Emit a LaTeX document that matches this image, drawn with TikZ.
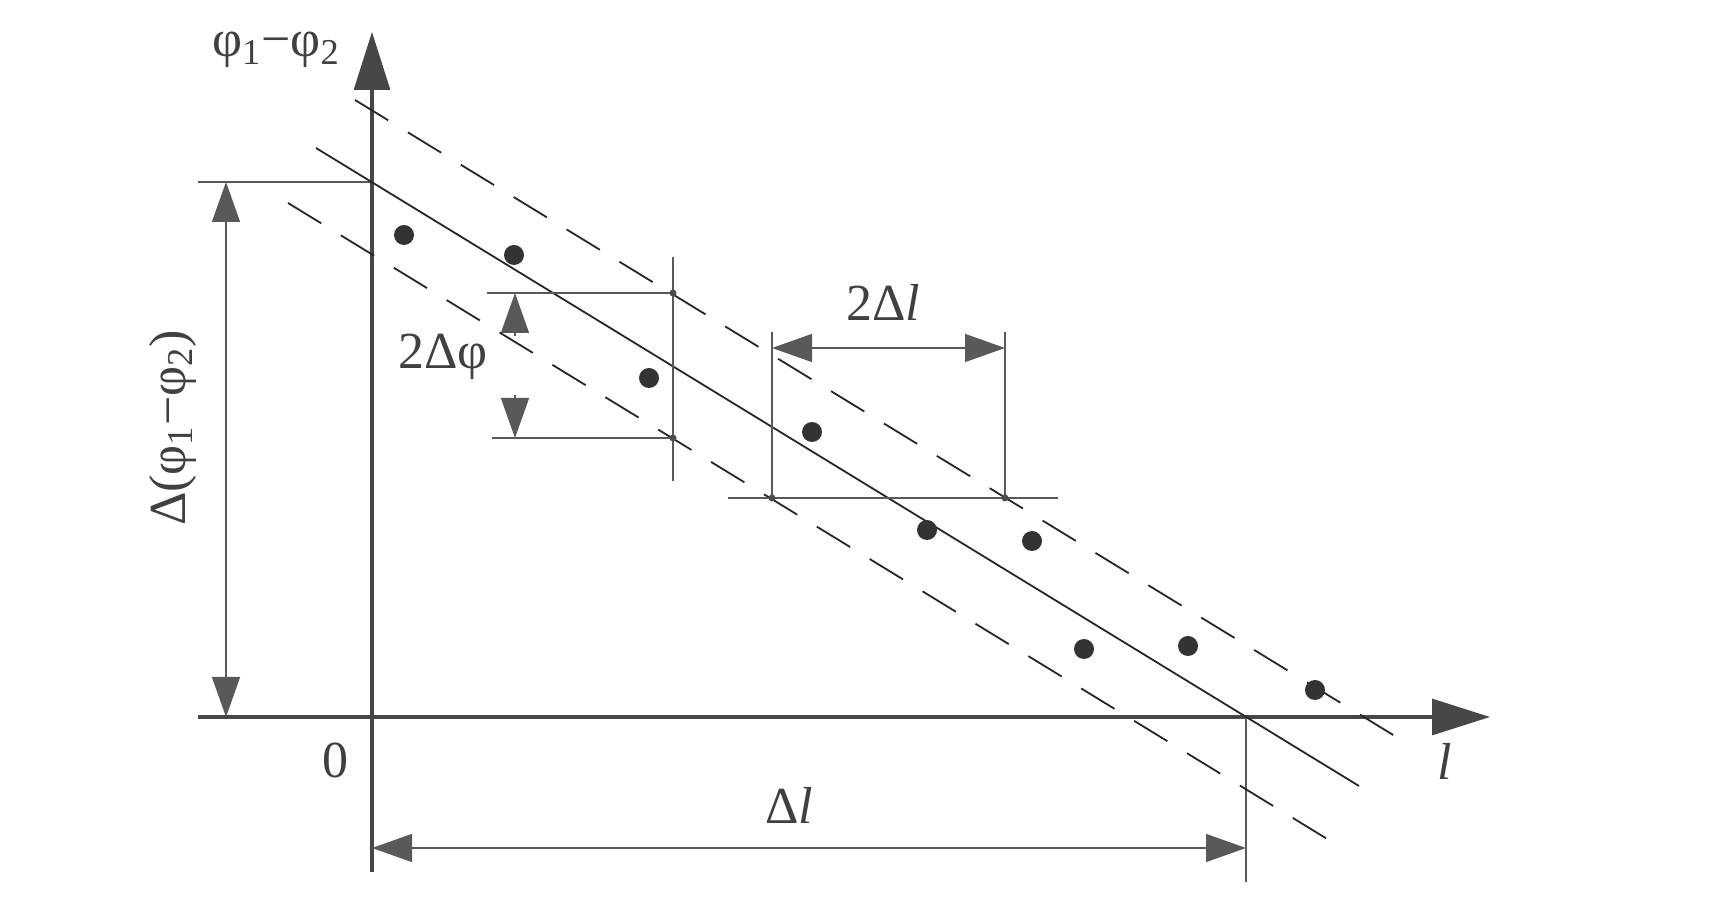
\documentclass[tikz,border=0pt]{standalone}
\usepackage{fontspec}
\setmainfont{Liberation Serif}
\usetikzlibrary{arrows.meta}
\begin{document}
\begin{tikzpicture}[x=0.5pt,y=-0.5pt,
  axisline/.style={draw=black!72, line width=1.6pt, -{Triangle[length=29pt,width=18pt]}},
  dimline/.style={draw=black!65, line width=0.7pt},
  dimarrow/.style={dimline, {Triangle[length=20pt,width=14pt]}-{Triangle[length=20pt,width=14pt]}},
  onearrow/.style={dimline, -{Triangle[length=20pt,width=14pt]}},
  fitline/.style={draw=black!85, line width=0.9pt},
  bandline/.style={draw=black!85, line width=0.9pt, dash pattern=on 19.5pt off 11.5pt},
  datapt/.style={circle, fill=black!80, inner sep=0pt, minimum size=10pt},
  xmark/.style={circle, fill=black!70, inner sep=0pt, minimum size=3.5pt},
  lbl/.style={text=black!75, font=\fontsize{26}{28}\selectfont, inner sep=0pt}]
\useasboundingbox (0,0) rectangle (1725,913);

% key coordinates
\coordinate (O) at (372,717);
\coordinate (ytop) at (372,32);
\coordinate (ybot) at (372,872);
\coordinate (xleft) at (198,717);
\coordinate (xtip) at (1490,717);
\coordinate (A0) at (372,182);
\coordinate (refL) at (198,182);
\coordinate (dLt) at (226,182);
\coordinate (dLb) at (226,717);
\coordinate (X0) at (1246,717);
\coordinate (X0b) at (1246,882);
\coordinate (dBl) at (372,848);
\coordinate (dBr) at (1246,848);

% fit line and band
\coordinate (F1) at (316,148);
\coordinate (F2) at (1359,786);
\coordinate (U1) at (355,100);
\coordinate (U2) at (1403,741);
\coordinate (L1) at (288,203);
\coordinate (L2) at (1337,845);

% 2 delta phi
\coordinate (P1) at (673,293);
\coordinate (P2) at (673,438);
\coordinate (Pt) at (673,257);
\coordinate (Pb) at (673,481);
\coordinate (Ph1) at (487,293);
\coordinate (Ph2) at (492,438);
\coordinate (Pa1) at (515,336);
\coordinate (Pa1t) at (515,293);
\coordinate (Pa2) at (515,395);
\coordinate (Pa2t) at (515,438);

% 2 delta l
\coordinate (Q1) at (772,498);
\coordinate (Q2) at (1005,498);
\coordinate (Q1t) at (772,332);
\coordinate (Q2t) at (1005,332);
\coordinate (Qh1) at (728,498);
\coordinate (Qh2) at (1058,498);
\coordinate (Qa1) at (772,348);
\coordinate (Qa2) at (1005,348);

% axes
\draw[axisline] (ybot) -- (ytop);
\draw[axisline] (xleft) -- (xtip);

% reference/dimension lines
\draw[dimline] (refL) -- (A0);
\draw[dimarrow] (dLb) -- (dLt);
\draw[dimline] (X0) -- (X0b);
\draw[dimarrow] (dBl) -- (dBr);

% fit line and band
\draw[fitline] (F1) -- (F2);
\draw[bandline] (U1) -- (U2);
\draw[bandline] (L1) -- (L2);

% 2 delta phi construction
\draw[dimline] (Pt) -- (Pb);
\draw[dimline] (Ph1) -- (P1);
\draw[dimline] (Ph2) -- (P2);
\draw[onearrow] (Pa1) -- (Pa1t);
\draw[onearrow] (Pa2) -- (Pa2t);
\node[xmark] (mP1) at (P1) {};
\node[xmark] (mP2) at (P2) {};

% 2 delta l construction
\draw[dimline] (Q1t) -- (772,500);
\draw[dimline] (Q2t) -- (1005,500);
\draw[dimline] (Qh1) -- (Qh2);
\draw[dimarrow] (Qa1) -- (Qa2);
\node[xmark] (mQ1) at (Q1) {};
\node[xmark] (mQ2) at (Q2) {};

% data points
\foreach \px/\py [count=\i] in {404/235, 514/255, 649/378, 812/432, 927/530,
    1032/541, 1084/649, 1188/646, 1315/690}
  \node[datapt] (d\i) at (\px,\py) {};

% labels
\node[lbl] (ylab) at (276,50) {φ\textsubscript{1}−φ\textsubscript{2}};
\node[lbl, rotate=90] (dylab) at (173,428) {Δ(φ\textsubscript{1}−φ\textsubscript{2})};
\node[lbl] (zero) at (335,760) {0};
\node[lbl] (xlab) at (1445,761) {\textit{l}};
\node[lbl] (dxlab) at (789,805) {Δ\textit{l}};
\node[lbl] (dphilab) at (443,357) {2Δφ};
\node[lbl] (dllab) at (883,302) {2Δ\textit{l}};
\end{tikzpicture}
\end{document}
